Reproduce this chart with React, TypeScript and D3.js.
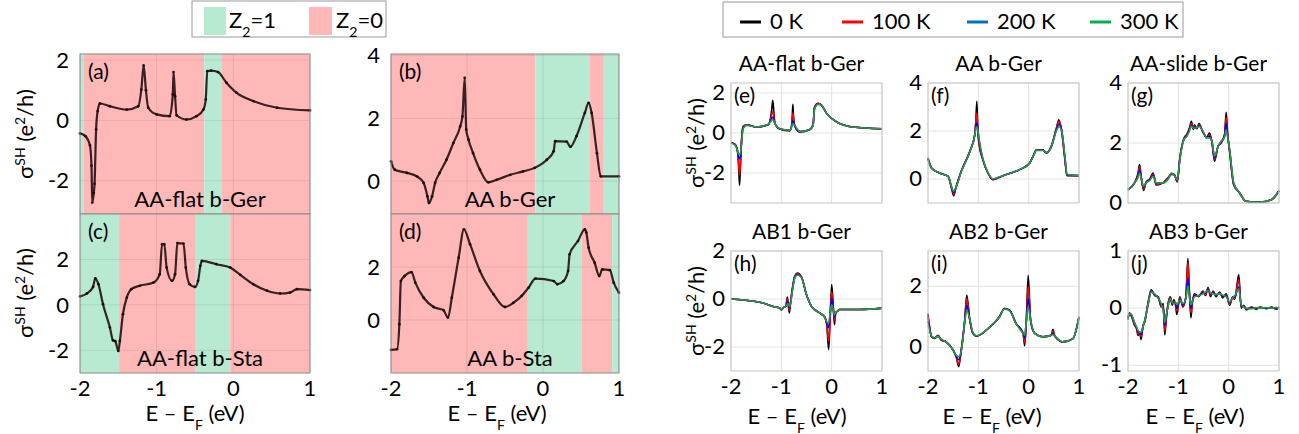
import React from "react";
import * as d3 from "d3";

const FONT = "Lato, 'Open Sans', sans-serif";
const GREEN_BAND = "#b8e9d1";
const RED_BAND = "#ffb8b8";

// ---- left panels: sigma_SH at 0 K with Z2 bands ----
const aE = [-2, -1.93, -1.87, -1.85, -1.84, -1.82, -1.81, -1.79, -1.77, -1.74, -1.61, -1.39, -1.24, -1.2, -1.17, -1.14, -1.11, -1.0, -0.83, -0.79, -0.78, -0.76, -0.74, -0.61, -0.48, -0.39, -0.36, -0.34, -0.29, -0.2, -0.09, 0.04, 0.26, 0.57, 1.0];
const aV = [-0.43, -0.52, -0.83, -1.5, -2.72, -2.4, -2.1, -0.3, 0.31, 0.56, 0.47, 0.36, 0.47, 1.02, 1.82, 1.0, 0.42, 0.2, 0.14, 0.86, 1.6, 0.8, 0.17, 0.03, 0.14, 0.36, 0.69, 1.63, 1.65, 1.6, 1.25, 0.92, 0.64, 0.42, 0.33];
const aEdges = [-2, -1.95, -0.38, -0.15, 1];
const aZ2 = [1, 0, 1, 0];

const bE = [-2, -1.95, -1.79, -1.66, -1.57, -1.52, -1.5, -1.46, -1.42, -1.36, -1.27, -1.18, -1.09, -1.06, -1.03, -1.01, -0.98, -0.92, -0.83, -0.72, -0.61, -0.43, -0.26, -0.11, 0.05, 0.14, 0.16, 0.31, 0.36, 0.44, 0.55, 0.6, 0.64, 0.71, 0.76, 1.0];
const bV = [0.63, 0.36, 0.26, 0.15, -0.06, -0.49, -0.7, -0.49, -0.06, 0.26, 0.68, 1.21, 1.74, 2.06, 3.29, 1.64, 1.32, 0.89, 0.36, -0.04, 0.04, 0.2, 0.31, 0.42, 0.68, 0.95, 1.27, 1.26, 1.09, 1.43, 2.17, 2.49, 2.17, 0.89, 0.15, 0.15];
const bEdges = [-2, -0.1, 0.61, 0.8, 1];
const bZ2 = [0, 1, 0, 1];

const cE = [-2, -1.91, -1.83, -1.8, -1.76, -1.7, -1.61, -1.57, -1.54, -1.5, -1.48, -1.44, -1.39, -1.33, -1.22, -1.04, -0.96, -0.93, -0.9, -0.87, -0.8, -0.76, -0.73, -0.65, -0.62, -0.57, -0.5, -0.46, -0.43, -0.41, -0.22, -0.04, 0.09, 0.26, 0.44, 0.61, 0.74, 0.83, 1.0];
const cV = [0.37, 0.5, 0.79, 1.17, 0.91, 0.03, -1.0, -1.56, -1.6, -2.03, -1.59, -0.41, 0.32, 0.69, 0.84, 0.98, 1.35, 2.67, 2.67, 1.64, 1.06, 1.35, 2.72, 2.7, 1.64, 0.91, 0.79, 1.06, 1.72, 1.94, 1.79, 1.64, 1.32, 0.91, 0.62, 0.5, 0.54, 0.69, 0.65];
const cEdges = [-2, -1.49, -0.5, -0.04, 1];
const cZ2 = [1, 0, 1, 0];

const dE = [-2, -1.92, -1.89, -1.87, -1.82, -1.73, -1.68, -1.57, -1.44, -1.31, -1.25, -1.2, -1.11, -1.04, -0.96, -0.83, -0.65, -0.5, -0.39, -0.28, -0.19, -0.1, 0.14, 0.19, 0.27, 0.33, 0.35, 0.46, 0.55, 0.57, 0.6, 0.68, 0.74, 0.78, 0.88, 0.93, 1.0];
const dV = [-1.13, -1.1, -0.16, 1.47, 1.66, 1.81, 1.41, 0.84, 0.49, 0.37, 0.09, 0.84, 2.35, 3.42, 2.86, 1.85, 0.97, 0.49, 0.65, 0.91, 1.22, 1.56, 1.47, 1.35, 1.47, 1.85, 2.48, 2.98, 3.42, 3.3, 2.73, 2.16, 1.66, 1.91, 1.88, 1.41, 1.03];
const dEdges = [-2, -0.2, 0.51, 0.91, 1];
const dZ2 = [0, 1, 0, 1];

// ---- right panels: temperature dependence (0, 100, 200, 300 K) ----
const temps = ["0 K", "100 K", "200 K", "300 K"];
const tempColors = ["#000000", "#ff0000", "#0000ff", "#2e9a3a"];
const legendColors = ["#000000", "#ff0000", "#0070c0", "#00b050"];

const eE = [-2, -1.92, -1.87, -1.85, -1.83, -1.81, -1.79, -1.76, -1.69, -1.49, -1.26, -1.21, -1.19, -1.17, -1.15, -1.13, -1.03, -0.83, -0.79, -0.78, -0.77, -0.76, -0.73, -0.63, -0.44, -0.37, -0.34, -0.27, -0.2, -0.1, 0.09, 0.42, 1.0];
const e0 = [-0.49, -0.57, -0.9, -1.6, -2.62, -1.5, -0.33, 0.33, 0.41, 0.3, 0.41, 0.82, 1.2, 1.64, 1.1, 0.49, 0.2, 0.11, 0.5, 1.0, 1.44, 0.9, 0.33, 0.05, 0.16, 0.41, 1.31, 1.48, 1.39, 0.98, 0.57, 0.3, 0.21];
const e100 = [-0.49, -0.57, -0.92, -1.5, -2.1, -1.4, -0.38, 0.3, 0.41, 0.3, 0.42, 0.72, 0.95, 1.07, 0.9, 0.5, 0.2, 0.12, 0.45, 0.8, 1.0, 0.75, 0.35, 0.06, 0.16, 0.4, 1.28, 1.47, 1.39, 0.98, 0.57, 0.3, 0.21];
const e200 = [-0.49, -0.58, -0.92, -1.2, -1.3, -1.1, -0.45, 0.25, 0.4, 0.3, 0.43, 0.62, 0.75, 0.79, 0.72, 0.5, 0.21, 0.13, 0.4, 0.55, 0.61, 0.55, 0.36, 0.07, 0.16, 0.38, 1.22, 1.45, 1.38, 0.98, 0.57, 0.3, 0.21];
const e300 = [-0.5, -0.6, -0.9, -1.05, -1.07, -0.95, -0.5, 0.2, 0.38, 0.3, 0.44, 0.58, 0.64, 0.66, 0.62, 0.5, 0.22, 0.14, 0.36, 0.44, 0.46, 0.44, 0.36, 0.08, 0.16, 0.36, 1.18, 1.43, 1.38, 0.98, 0.57, 0.3, 0.21];

const fE = [-2, -1.93, -1.77, -1.6, -1.54, -1.49, -1.44, -1.34, -1.17, -1.07, -1.05, -1.03, -1.01, -0.99, -0.91, -0.81, -0.71, -0.51, -0.18, 0.02, 0.1, 0.15, 0.28, 0.35, 0.45, 0.55, 0.6, 0.65, 0.72, 0.76, 1.0];
const f0 = [0.88, 0.46, 0.25, 0.11, -0.31, -0.7, -0.31, 0.32, 1.15, 1.85, 2.4, 3.24, 2.0, 1.5, 0.8, 0.25, -0.03, 0.14, 0.39, 0.67, 1.01, 1.22, 1.22, 1.08, 1.36, 2.1, 2.47, 2.06, 0.8, 0.14, 0.14];
const f100 = [0.86, 0.46, 0.25, 0.11, -0.3, -0.64, -0.32, 0.32, 1.15, 1.85, 2.35, 2.75, 2.1, 1.6, 0.8, 0.26, -0.02, 0.14, 0.39, 0.67, 1.0, 1.21, 1.21, 1.09, 1.36, 2.1, 2.4, 2.1, 0.85, 0.16, 0.14];
const f200 = [0.83, 0.46, 0.25, 0.11, -0.28, -0.57, -0.33, 0.31, 1.14, 1.85, 2.2, 2.33, 2.1, 1.7, 0.82, 0.27, 0.0, 0.14, 0.39, 0.67, 0.99, 1.2, 1.2, 1.1, 1.35, 2.05, 2.28, 2.1, 0.9, 0.18, 0.14];
const f300 = [0.8, 0.46, 0.25, 0.11, -0.25, -0.51, -0.33, 0.3, 1.12, 1.83, 2.1, 2.17, 2.05, 1.75, 0.85, 0.28, 0.01, 0.14, 0.39, 0.67, 0.98, 1.19, 1.19, 1.1, 1.34, 2.0, 2.17, 2.05, 0.95, 0.2, 0.14];

const gE = [-2, -1.87, -1.8, -1.77, -1.74, -1.69, -1.64, -1.57, -1.5, -1.44, -1.3, -1.2, -1.14, -1.08, -1.02, -0.97, -0.89, -0.83, -0.78, -0.74, -0.7, -0.68, -0.63, -0.59, -0.51, -0.44, -0.38, -0.33, -0.28, -0.21, -0.15, -0.08, -0.05, -0.02, 0.02, 0.1, 0.22, 0.34, 0.62, 0.85, 1.0];
const g0 = [0.44, 0.67, 1.0, 1.28, 0.9, 0.42, 0.7, 0.8, 1.0, 0.6, 0.68, 0.85, 0.95, 0.95, 0.7, 1.5, 2.15, 2.3, 2.5, 2.72, 2.45, 2.6, 2.48, 2.65, 2.35, 2.2, 2.33, 2.0, 1.39, 1.9, 2.0, 2.3, 3.02, 2.3, 1.7, 0.6, 0.33, 0.06, 0.03, 0.11, 0.41];
const g100 = [0.44, 0.67, 0.95, 1.2, 0.88, 0.47, 0.69, 0.78, 0.96, 0.62, 0.68, 0.83, 0.97, 0.94, 0.73, 1.48, 2.13, 2.27, 2.46, 2.66, 2.47, 2.56, 2.5, 2.61, 2.37, 2.19, 2.27, 2.02, 1.45, 1.9, 2.02, 2.26, 2.85, 2.26, 1.73, 0.63, 0.33, 0.06, 0.03, 0.11, 0.41];
const g200 = [0.44, 0.67, 0.9, 1.1, 0.86, 0.52, 0.68, 0.77, 0.92, 0.65, 0.67, 0.82, 0.98, 0.93, 0.76, 1.46, 2.12, 2.24, 2.43, 2.6, 2.48, 2.53, 2.51, 2.58, 2.38, 2.18, 2.22, 2.03, 1.5, 1.89, 2.04, 2.23, 2.65, 2.23, 1.75, 0.65, 0.33, 0.06, 0.03, 0.11, 0.41];
const g300 = [0.44, 0.67, 0.85, 1.0, 0.85, 0.56, 0.67, 0.75, 0.89, 0.67, 0.67, 0.8, 1.0, 0.92, 0.78, 1.44, 2.11, 2.22, 2.4, 2.56, 2.5, 2.5, 2.52, 2.56, 2.39, 2.17, 2.17, 2.05, 1.56, 1.89, 2.06, 2.2, 2.44, 2.2, 1.78, 0.67, 0.33, 0.06, 0.03, 0.11, 0.41];

const hE = [-2, -1.36, -1.16, -1.03, -1.0, -0.95, -0.91, -0.88, -0.86, -0.84, -0.82, -0.78, -0.73, -0.68, -0.6, -0.5, -0.4, -0.24, -0.14, -0.1, -0.06, -0.03, 0.0, 0.03, 0.055, 0.08, 0.12, 0.16, 0.56, 1.0];
const h0 = [0, -0.17, -0.31, -0.38, -0.46, -0.35, -0.3, 0.08, -0.3, -0.58, -0.2, 0.45, 0.97, 1.08, 0.92, 0.18, -0.31, -0.58, -0.75, -1.0, -2.11, -0.8, 0.6, -0.2, -1.07, -0.6, -0.5, -0.44, -0.44, -0.38];
const h100 = [0, -0.17, -0.31, -0.38, -0.44, -0.35, -0.3, 0.0, -0.25, -0.48, -0.2, 0.42, 0.95, 1.05, 0.91, 0.18, -0.31, -0.58, -0.75, -1.0, -1.76, -0.7, 0.3, -0.3, -0.9, -0.58, -0.5, -0.44, -0.44, -0.38];
const h200 = [0, -0.17, -0.31, -0.38, -0.43, -0.35, -0.3, -0.1, -0.2, -0.38, -0.22, 0.38, 0.92, 1.02, 0.9, 0.18, -0.31, -0.58, -0.75, -1.0, -1.2, -0.6, 0.04, -0.4, -0.75, -0.56, -0.5, -0.44, -0.44, -0.38];
const h300 = [0, -0.17, -0.31, -0.38, -0.42, -0.35, -0.3, -0.2, -0.2, -0.3, -0.22, 0.35, 0.88, 1.0, 0.9, 0.18, -0.31, -0.58, -0.75, -0.95, -1.0, -0.6, -0.24, -0.45, -0.65, -0.55, -0.5, -0.44, -0.44, -0.38];

const iE = [-2, -1.98, -1.93, -1.87, -1.8, -1.74, -1.64, -1.5, -1.44, -1.39, -1.34, -1.27, -1.23, -1.17, -1.11, -1.04, -0.77, -0.58, -0.48, -0.38, -0.25, -0.11, -0.08, -0.05, -0.01, 0.04, 0.12, 0.28, 0.45, 0.48, 0.52, 0.68, 0.88, 1.0];
const i0 = [1.1, 0.8, 0.35, 0.29, 0.4, 0.24, 0.18, -0.09, -0.3, -0.63, -0.09, 0.89, 1.71, 0.89, 0.46, 0.37, 0.67, 1.0, 1.27, 1.22, 0.78, 0.46, 0.05, 0.7, 2.36, 0.85, 0.46, 0.35, 0.4, 0.59, 0.37, 0.18, 0.29, 1.0];
const i100 = [1.0, 0.78, 0.35, 0.3, 0.39, 0.25, 0.18, -0.09, -0.3, -0.55, -0.1, 0.88, 1.6, 0.9, 0.47, 0.37, 0.67, 1.0, 1.27, 1.22, 0.78, 0.46, 0.15, 0.75, 2.0, 0.87, 0.46, 0.35, 0.4, 0.52, 0.37, 0.18, 0.29, 1.0];
const i200 = [0.85, 0.72, 0.36, 0.31, 0.37, 0.26, 0.18, -0.09, -0.28, -0.4, -0.12, 0.85, 1.38, 0.92, 0.48, 0.37, 0.67, 1.0, 1.27, 1.22, 0.78, 0.46, 0.3, 0.8, 1.6, 0.88, 0.46, 0.35, 0.4, 0.45, 0.37, 0.18, 0.29, 1.0];
const i300 = [0.73, 0.65, 0.37, 0.32, 0.36, 0.27, 0.18, -0.09, -0.25, -0.3, -0.13, 0.82, 1.22, 0.92, 0.5, 0.38, 0.67, 1.0, 1.25, 1.2, 0.78, 0.46, 0.4, 0.8, 1.33, 0.88, 0.46, 0.35, 0.4, 0.42, 0.37, 0.18, 0.29, 1.0];

const jE = [-2, -1.97, -1.93, -1.9, -1.87, -1.83, -1.8, -1.77, -1.74, -1.7, -1.67, -1.6, -1.54, -1.47, -1.4, -1.34, -1.3, -1.27, -1.24, -1.21, -1.16, -1.12, -1.09, -1.05, -1.03, -0.97, -0.91, -0.85, -0.81, -0.78, -0.75, -0.72, -0.68, -0.6, -0.51, -0.46, -0.41, -0.36, -0.31, -0.25, -0.18, -0.12, -0.05, 0.02, 0.08, 0.12, 0.2, 0.25, 0.3, 0.35, 0.45, 0.55, 0.62, 0.75, 0.85, 0.95, 1.0];
const j0 = [-0.2, -0.08, -0.15, -0.22, -0.3, -0.36, -0.48, -0.42, -0.55, -0.3, -0.25, 0.1, 0.32, 0.22, 0.2, 0.02, 0.08, -0.47, -0.2, 0.05, 0.2, 0.05, 0.15, 0.02, -0.11, 0.2, 0.02, 0.2, 0.87, 0.3, -0.17, 0.1, 0.25, 0.2, 0.3, 0.22, 0.36, 0.2, 0.3, 0.2, 0.28, 0.18, 0.25, 0.05, 0.2, 0.15, 0.59, 0.0, 0.05, -0.03, 0.02, -0.02, 0.02, -0.01, 0.02, -0.02, 0.02];
const j100 = [-0.18, -0.09, -0.13, -0.2, -0.28, -0.35, -0.45, -0.42, -0.5, -0.31, -0.24, 0.09, 0.31, 0.23, 0.19, 0.04, 0.04, -0.4, -0.17, 0.03, 0.19, 0.07, 0.12, 0.05, -0.05, 0.18, 0.04, 0.19, 0.8, 0.27, -0.08, 0.11, 0.23, 0.21, 0.28, 0.24, 0.34, 0.23, 0.28, 0.22, 0.27, 0.2, 0.23, 0.07, 0.19, 0.17, 0.5, 0.02, 0.04, -0.02, 0.01, -0.01, 0.01, 0.0, 0.01, -0.01, 0.01];
const j200 = [-0.16, -0.1, -0.12, -0.19, -0.26, -0.34, -0.42, -0.42, -0.46, -0.32, -0.23, 0.07, 0.3, 0.24, 0.18, 0.06, 0.0, -0.3, -0.14, 0.01, 0.18, 0.08, 0.1, 0.07, 0.0, 0.16, 0.06, 0.18, 0.53, 0.24, 0.0, 0.12, 0.22, 0.22, 0.27, 0.26, 0.33, 0.25, 0.27, 0.23, 0.26, 0.21, 0.22, 0.09, 0.19, 0.19, 0.37, 0.04, 0.03, -0.01, 0.0, 0.0, 0.0, 0.0, 0.0, 0.0, 0.01];
const j300 = [-0.14, -0.1, -0.11, -0.18, -0.25, -0.33, -0.39, -0.42, -0.42, -0.32, -0.22, 0.06, 0.28, 0.25, 0.17, 0.08, -0.05, -0.25, -0.12, 0.0, 0.17, 0.1, 0.08, 0.1, 0.06, 0.14, 0.08, 0.17, 0.39, 0.2, 0.06, 0.12, 0.2, 0.22, 0.25, 0.28, 0.31, 0.27, 0.25, 0.24, 0.25, 0.23, 0.2, 0.11, 0.18, 0.22, 0.34, 0.06, 0.02, 0.0, -0.01, 0.01, 0.0, 0.01, 0.0, 0.01, 0.0];

const xTicks = [-2, -1, 0, 1];

const leftPanels = [
  { tag: "(a)", name: "AA-flat b-Ger", x0: 80, x1: 310, y0: 54, y1: 214, dom: [-3.1, 2.2], ticks: [-2, 0, 2], E: aE, V: aV, edges: aEdges, z2: aZ2, xLab: false },
  { tag: "(b)", name: "AA b-Ger", x0: 391, x1: 619, y0: 54, y1: 214, dom: [-1.05, 4.05], ticks: [0, 2, 4], E: bE, V: bV, edges: bEdges, z2: bZ2, xLab: false },
  { tag: "(c)", name: "AA-flat b-Sta", x0: 80, x1: 310, y0: 214, y1: 373, dom: [-3, 4], ticks: [-2, 0, 2], E: cE, V: cV, edges: cEdges, z2: cZ2, xLab: true },
  { tag: "(d)", name: "AA b-Sta", x0: 391, x1: 619, y0: 214, y1: 373, dom: [-2, 4], ticks: [0, 2], E: dE, V: dV, edges: dEdges, z2: dZ2, xLab: true },
];

const rightPanels = [
  { tag: "(e)", title: "AA-flat b-Ger", x0: 731, x1: 882, y0: 83, y1: 203, dom: [-3.5, 2.5], ticks: [-2, 0, 2], E: eE, T: [e0, e100, e200, e300], xLab: false },
  { tag: "(f)", title: "AA b-Ger", x0: 928, x1: 1079, y0: 83, y1: 203, dom: [-1, 4], ticks: [0, 2, 4], E: fE, T: [f0, f100, f200, f300], xLab: false },
  { tag: "(g)", title: "AA-slide b-Ger", x0: 1128, x1: 1279, y0: 83, y1: 203, dom: [0, 4], ticks: [0, 2, 4], E: gE, T: [g0, g100, g200, g300], xLab: false },
  { tag: "(h)", title: "AB1 b-Ger", x0: 731, x1: 882, y0: 251, y1: 371, dom: [-3, 2], ticks: [-2, 0, 2], E: hE, T: [h0, h100, h200, h300], xLab: true },
  { tag: "(i)", title: "AB2 b-Ger", x0: 928, x1: 1079, y0: 251, y1: 371, dom: [-0.77, 3.15], ticks: [0, 2], E: iE, T: [i0, i100, i200, i300], xLab: true },
  { tag: "(j)", title: "AB3 b-Ger", x0: 1128, x1: 1279, y0: 251, y1: 371, dom: [-1.1, 1], ticks: [-1, 0, 1], E: jE, T: [j0, j100, j200, j300], xLab: true },
];

function SigmaLabel({ x, y }) {
  return (
    <text transform={`translate(${x},${y}) rotate(-90)`} textAnchor="middle" fontSize={22} fontFamily={FONT} fill="#000">
      σ<tspan baselineShift="super" fontSize={14}>SH</tspan> (e<tspan baselineShift="super" fontSize={14}>2</tspan>/h)
    </text>
  );
}

function ELabel({ x, y }) {
  return (
    <text x={x} y={y} textAnchor="middle" fontSize={22} fontFamily={FONT} fill="#000">
      E – E<tspan baselineShift="sub" fontSize={14}>F</tspan> (eV)
    </text>
  );
}

function LeftPanel({ p }) {
  const x = d3.scaleLinear().domain([-2, 1]).range([p.x0, p.x1]);
  const y = d3.scaleLinear().domain(p.dom).range([p.y1, p.y0]);
  const pts = p.E.map((e, i) => [e, p.V[i]]);
  const line = d3.line().x(d => x(d[0])).y(d => y(d[1])).curve(d3.curveMonotoneX);
  return (
    <g>
      {p.z2.map((z, i) => (
        <rect key={i} x={x(p.edges[i])} y={p.y0} width={x(p.edges[i + 1]) - x(p.edges[i])} height={p.y1 - p.y0} fill={z === 1 ? GREEN_BAND : RED_BAND} />
      ))}
      {xTicks.map(t => (
        <line key={"gx" + t} x1={x(t)} x2={x(t)} y1={p.y0} y2={p.y1} stroke="#000" strokeOpacity={0.08} />
      ))}
      {p.ticks.map(t => (
        <line key={"gy" + t} x1={p.x0} x2={p.x1} y1={y(t)} y2={y(t)} stroke="#000" strokeOpacity={0.08} />
      ))}
      <path d={line(pts)} fill="none" stroke="#160606" strokeOpacity={0.85} strokeWidth={2.2} />
      {pts.map((d, i) => (
        <circle key={i} cx={x(d[0])} cy={y(d[1])} r={1.4} fill="#160606" fillOpacity={0.85} />
      ))}
      <rect x={p.x0} y={p.y0} width={p.x1 - p.x0} height={p.y1 - p.y0} fill="none" stroke="#8a8a8a" />
      {p.ticks.map(t => (
        <text key={"ty" + t} x={p.x0 - 11} y={y(t)} dy="0.35em" textAnchor="end" fontSize={22} fontFamily={FONT}>{t}</text>
      ))}
      {p.xLab && xTicks.map(t => (
        <text key={"tx" + t} x={x(t)} y={p.y1 + 23} textAnchor="middle" fontSize={22} fontFamily={FONT}>{t}</text>
      ))}
      <text x={p.x0 + 8} y={p.y0 + 25} fontSize={21} fontFamily={FONT}>{p.tag}</text>
      <text x={(p.x0 + p.x1) / 2 + 5} y={p.y1 - 7} textAnchor="middle" fontSize={22} fontFamily={FONT}>{p.name}</text>
    </g>
  );
}

function RightPanel({ p }) {
  const x = d3.scaleLinear().domain([-2, 1]).range([p.x0, p.x1]);
  const y = d3.scaleLinear().domain(p.dom).range([p.y1, p.y0]);
  const line = d3.line().x(d => x(d[0])).y(d => y(d[1])).curve(d3.curveMonotoneX);
  return (
    <g>
      <rect x={p.x0} y={p.y0} width={p.x1 - p.x0} height={p.y1 - p.y0} fill="#fff" />
      {xTicks.map(t => (
        <line key={"gx" + t} x1={x(t)} x2={x(t)} y1={p.y0} y2={p.y1} stroke="#e3e3e3" />
      ))}
      {p.ticks.map(t => (
        <line key={"gy" + t} x1={p.x0} x2={p.x1} y1={y(t)} y2={y(t)} stroke="#e3e3e3" />
      ))}
      {p.T.map((vals, k) => (
        <path key={k} d={line(p.E.map((e, i) => [e, vals[i]]))} fill="none" stroke={tempColors[k]} strokeWidth={1.6} />
      ))}
      <rect x={p.x0} y={p.y0} width={p.x1 - p.x0} height={p.y1 - p.y0} fill="none" stroke="#c4c4c4" />
      {p.ticks.map(t => (
        <text key={"ty" + t} x={p.x0 - 6} y={y(t)} dy="0.3em" textAnchor="end" fontSize={22} fontFamily={FONT}>{t}</text>
      ))}
      {p.xLab && xTicks.map(t => (
        <text key={"tx" + t} x={x(t)} y={p.y1 + 23} textAnchor="middle" fontSize={22} fontFamily={FONT}>{t}</text>
      ))}
      <text x={p.x0 + 3} y={p.y0 + 20} fontSize={21} fontFamily={FONT}>{p.tag}</text>
      <text x={(p.x0 + p.x1) / 2 - 5} y={p.y0 - 12} textAnchor="middle" fontSize={21} fontFamily={FONT}>{p.title}</text>
    </g>
  );
}

export default function App() {
  return (
    <svg width={1299} height={434} style={{ position: "absolute", left: 0, top: 0, background: "#fff" }}>
      {/* Z2 legend */}
      <rect x={192} y={1} width={194} height={36} fill="#fff" stroke="#9a9a9a" />
      <rect x={204} y={7} width={22} height={28} fill={GREEN_BAND} />
      <text x={229} y={28} fontSize={22} fontFamily={FONT}>Z<tspan baselineShift="sub" fontSize={14}>2</tspan>=1</text>
      <rect x={309} y={7} width={23} height={28} fill={RED_BAND} />
      <text x={336} y={28} fontSize={22} fontFamily={FONT}>Z<tspan baselineShift="sub" fontSize={14}>2</tspan>=0</text>

      {/* temperature legend */}
      <rect x={723} y={2} width={460} height={35} fill="#fff" stroke="#9a9a9a" />
      {temps.map((t, k) => {
        const lx = [740, 842, 967, 1090][k];
        return (
          <g key={t}>
            <line x1={lx} x2={lx + 21} y1={22} y2={22} stroke={legendColors[k]} strokeWidth={3} />
            <text x={lx + 30} y={29} fontSize={22} fontFamily={FONT}>{t}</text>
          </g>
        );
      })}

      {leftPanels.map(p => <LeftPanel key={p.tag} p={p} />)}
      {rightPanels.map(p => <RightPanel key={p.tag} p={p} />)}

      <SigmaLabel x={33} y={134} />
      <SigmaLabel x={33} y={293} />
      <SigmaLabel x={704} y={143} />
      <SigmaLabel x={704} y={311} />
      <ELabel x={195} y={421} />
      <ELabel x={497} y={421} />
      <ELabel x={797} y={424} />
      <ELabel x={992} y={424} />
      <ELabel x={1195} y={424} />
    </svg>
  );
}
